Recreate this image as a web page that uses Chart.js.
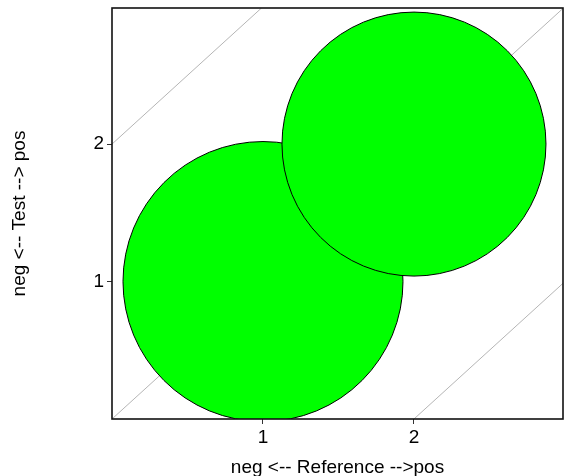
<!DOCTYPE html>
<html>
<head>
<meta charset="utf-8">
<script src="https://cdn.jsdelivr.net/npm/chart.js@4.4.0/dist/chart.umd.min.js"></script>
<style>
  html, body { margin: 0; padding: 0; background: #fff; }
  #wrap { width: 564px; height: 476px; }
</style>
</head>
<body>
<div id="wrap"><canvas id="agree"></canvas></div>
<script>
// DATA
const refValues = [1, 2];
const testValues = [1, 2];
const bubbleRadius = [140, 132];
const tickValues = [1, 2];
const diagOffsets = [-2, 0, 2];
const axisMax = 2.987;
const axisMaxY = 2.99;

const xTitle = 'neg <-- Reference -->pos';
const yTitle = 'neg <-- Test --> pos';

const FONT = { family: '"Liberation Sans", Arial, sans-serif', size: 19 };

// diagonal reference lines y = x + offset, clipped to the axis box
let diagSets = diagOffsets.map(off => {
  let x0 = Math.max(0, -off);
  let x1 = Math.min(axisMax, axisMaxY - off);
  return {
    type: 'line',
    data: [{ x: x0, y: x0 + off }, { x: x1, y: x1 + off }],
    borderColor: '#b5b5b5',
    borderWidth: 1,
    pointRadius: 0,
    order: 2,
    clip: 0
  };
});

let bubbles = {
  type: 'bubble',
  data: refValues.map((v, i) => ({ x: v, y: testValues[i], r: bubbleRadius[i] })),
  backgroundColor: '#00ff00',
  borderColor: '#000',
  borderWidth: 1,
  hoverRadius: 0,
  order: 1,
  clip: 0
};

const boxPlugin = {
  id: 'box',
  afterDatasetsDraw(chart) {
    let { ctx, chartArea: a } = chart;
    ctx.save();
    ctx.strokeStyle = '#111';
    ctx.lineWidth = 1.6;
    ctx.strokeRect(a.left, a.top, a.right - a.left, a.bottom - a.top);
    ctx.restore();
  }
};

new Chart(document.getElementById('agree'), {
  data: { datasets: [bubbles, ...diagSets] },
  options: {
    responsive: true,
    maintainAspectRatio: false,
    animation: false,
    events: [],
    layout: { autoPadding: false, padding: { top: 8, right: 1, left: 0, bottom: 0 } },
    plugins: {
      legend: { display: false },
      tooltip: { enabled: false }
    },
    scales: {
      x: {
        type: 'linear',
        min: 0,
        max: axisMax,
        afterBuildTicks: s => { s.ticks = tickValues.map(v => ({ value: v })); },
        afterFit: s => { s.height = 57; s.paddingLeft = 0; s.paddingRight = 0; },
        grid: { drawOnChartArea: false, drawTicks: true, tickLength: 5, color: '#333' },
        border: { display: false },
        ticks: { color: '#000', font: FONT, padding: 2, maxRotation: 0 },
        title: { display: true, text: xTitle, color: '#000', font: FONT, padding: { top: 0, bottom: -3 } }
      },
      y: {
        type: 'linear',
        min: 0,
        max: axisMaxY,
        afterBuildTicks: s => { s.ticks = tickValues.map(v => ({ value: v })); },
        afterFit: s => { s.width = 112; s.paddingTop = 0; s.paddingBottom = 0; },
        grid: { drawOnChartArea: false, drawTicks: true, tickLength: 5, color: '#333' },
        border: { display: false },
        ticks: { color: '#000', font: FONT, padding: 3 },
        title: { display: true, text: yTitle, color: '#000', font: FONT, padding: { top: 8, bottom: 0 } }
      }
    }
  },
  plugins: [boxPlugin]
});
</script>
</body>
</html>
